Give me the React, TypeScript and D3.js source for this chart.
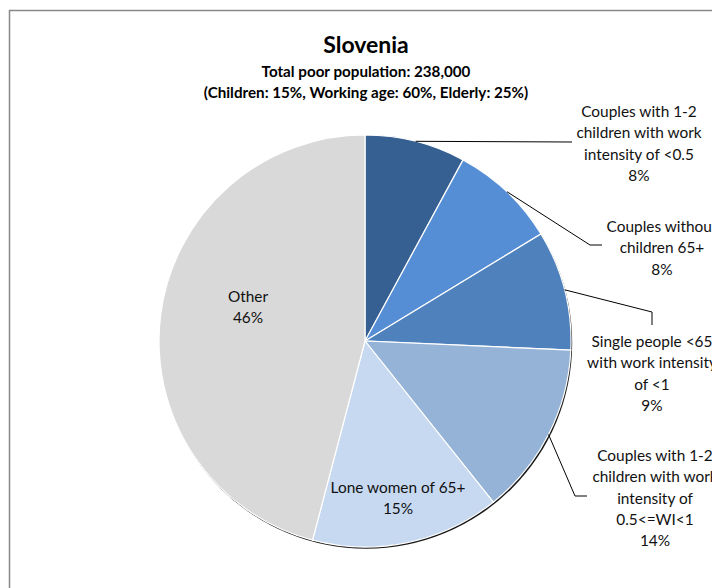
import React, { useEffect, useRef } from 'react';
import * as d3 from 'd3';

// slice data, clockwise from 12 o'clock
const categories = [
  'Couples with 1-2 children with work intensity of <0.5',
  'Couples without children 65+',
  'Single people <65 with work intensity of <1',
  'Couples with 1-2 children with work intensity of 0.5<=WI<1',
  'Lone women of 65+',
  'Other',
];
const shares = [7.9, 8.4, 9.4, 13.6, 14.8, 45.9];
const shareLabels = ['8%', '8%', '9%', '14%', '15%', '46%'];
const labelLines = [
  ['Couples with 1-2', 'children with work', 'intensity of <0.5'],
  ['Couples without', 'children 65+'],
  ['Single people <65', 'with work intensity', 'of <1'],
  ['Couples with 1-2', 'children with work', 'intensity of', '0.5<=WI<1'],
  ['Lone women of 65+'],
  ['Other'],
];
const colors = ['#376092', '#558ed5', '#4f81bd', '#95b3d7', '#c6d9f1', '#d9d9d9'];

const title = 'Slovenia';
const subtitle1 = 'Total poor population: 238,000';
const subtitle2 = '(Children: 15%, Working age: 60%, Elderly: 25%)';

// label layout: first line centre, plus leader elbow points (none = label inside slice)
const labelLayout: { tx: number; ty: number; elbow: [number, number][] }[] = [
  { tx: 639, ty: 112, elbow: [[572, 142]] },
  { tx: 662, ty: 227, elbow: [[590, 245], [602, 245]] },
  { tx: 652, ty: 342, elbow: [[652, 312], [652, 325]] },
  { tx: 655, ty: 456, elbow: [[575, 496], [587, 496]] },
  { tx: 398, ty: 488, elbow: [] },
  { tx: 248, ty: 297, elbow: [] },
];

const FONT = "Lato, Calibri, 'Liberation Sans', sans-serif";

const App: React.FC = () => {
  const svgRef = useRef<SVGSVGElement>(null);

  useEffect(() => {
    if (!svgRef.current) return;
    const svg = d3.select(svgRef.current);
    svg.selectAll('*').remove();

    const W = 712, H = 588;
    const cx = 365, cy = 341, r = 206;
    const lineH = 21.3;

    // chart border
    svg.append('rect')
      .attr('x', 9.5).attr('y', 10.5)
      .attr('width', W + 20).attr('height', H + 20)
      .attr('fill', '#fff').attr('stroke', '#888').attr('stroke-width', 1.5);

    // titles
    svg.append('text').attr('x', 366).attr('y', 53)
      .attr('text-anchor', 'middle').attr('font-family', FONT)
      .attr('font-weight', 'bold').attr('font-size', 23).text(title);
    svg.append('text').attr('x', 366).attr('y', 77)
      .attr('text-anchor', 'middle').attr('font-family', FONT)
      .attr('font-weight', 'bold').attr('font-size', 15.2).text(subtitle1);
    svg.append('text').attr('x', 366).attr('y', 98)
      .attr('text-anchor', 'middle').attr('font-family', FONT)
      .attr('font-weight', 'bold').attr('font-size', 15.2).text(subtitle2);

    const pie = d3.pie<number>().sort(null).value(d => d);
    const arcs = pie(shares);
    const arc = d3.arc<d3.PieArcDatum<number>>().innerRadius(0).outerRadius(r);

    const g = svg.append('g').attr('transform', `translate(${cx},${cy})`);

    // shadow edge
    g.append('circle').attr('cx', 1.2).attr('cy', 1.8).attr('r', r)
      .attr('fill', '#000').attr('opacity', 0.9);

    g.selectAll('path.slice')
      .data(arcs)
      .enter()
      .append('path')
      .attr('class', 'slice')
      .attr('d', arc)
      .attr('fill', (_, i) => colors[i])
      .attr('stroke', '#fff')
      .attr('stroke-width', 1.2);

    // labels
    arcs.forEach((a, i) => {
      const lines = [...labelLines[i], shareLabels[i]];
      const lay = labelLayout[i];
      if (lay.elbow.length) {
        const mid = (a.startAngle + a.endAngle) / 2;
        const sx = cx + r * Math.sin(mid);
        const sy = cy - r * Math.cos(mid);
        const pts: [number, number][] = [[sx, sy], ...lay.elbow];
        svg.append('path')
          .attr('d', d3.line()(pts))
          .attr('fill', 'none').attr('stroke', '#000').attr('stroke-width', 1);
      }
      const t = svg.append('text')
        .attr('text-anchor', 'middle').attr('font-family', FONT)
        .attr('font-size', 15.4).attr('fill', '#111');
      lines.forEach((l, k) => {
        t.append('tspan').attr('x', lay.tx).attr('y', lay.ty + k * lineH + 5).text(l);
      });
    });
  }, []);

  return (
    <div style={{ position: 'absolute', left: 0, top: 0, width: 712, height: 588, background: '#fff' }}>
      <svg ref={svgRef} width={712} height={588} style={{ display: 'block' }}></svg>
    </div>
  );
};

export default App;
